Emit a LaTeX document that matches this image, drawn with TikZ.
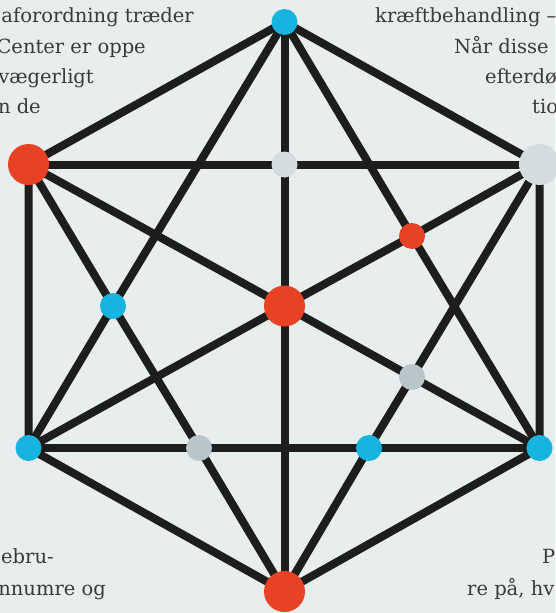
\documentclass[tikz,border=0pt]{standalone}
\usepackage{fontspec}
\setmainfont{DejaVu Serif}
\usepackage{xcolor}
\usepackage{tikz}
\usetikzlibrary{positioning}

\definecolor{paper}{HTML}{E8EDED}
\definecolor{linegray}{HTML}{1D1D1B}
\definecolor{dotred}{HTML}{E84225}
\definecolor{dotblue}{HTML}{17B4E0}
\definecolor{dotpale}{HTML}{D4DCDF}
\definecolor{dotgray}{HTML}{B8C6CA}
\definecolor{textgray}{HTML}{3A3A3A}

\pgfdeclarelayer{back}
\pgfsetlayers{back,main}

\begin{document}
\begin{tikzpicture}[
  x=1pt, y=-1pt,
  edge/.style={line width=8pt, draw=linegray},
  big/.style={circle, inner sep=0pt, minimum size=41pt},
  small/.style={circle, inner sep=0pt, minimum size=26pt},
  txt/.style={inner sep=0pt, text=textgray,
              font=\fontsize{19.5}{30}\selectfont}
]
\useasboundingbox (0,0) rectangle (555,613);

% outer corners
\node[small, fill=dotblue] (top) at (284.5,22) {};
\node[big, fill=dotred] (ul) at (28.5,164.5) {};
\node[big, fill=dotpale] (ur) at (539.5,164.5) {};
\node[small, fill=dotblue] (ll) at (28.5,448) {};
\node[small, fill=dotblue] (lr) at (539.5,448) {};
\node[big, fill=dotred] (bot) at (284.5,591.5) {};

% inner crossings
\node[big, fill=dotred] (ctr) at (284.5,306) {};
\node[small, fill=dotpale] (um) at (284.5,164.5) {};
\node[small, fill=dotred] (rr) at (412,236) {};
\node[small, fill=dotblue] (lm) at (113,306) {};
\node[small, fill=dotgray] (rg) at (412,377) {};
\node[small, fill=dotgray] (bg) at (199,448) {};
\node[small, fill=dotblue] (bb) at (369,448) {};

\begin{pgfonlayer}{back}
\fill[paper] (0,0) rectangle (555,613);
% hexagon
\draw[edge] (top.center) -- (ul.center) -- (ll.center) -- (bot.center)
  -- (lr.center) -- (ur.center) -- (top.center);
% straight lines
\draw[edge] (ul.center) -- (um.center) -- (ur.center);
\draw[edge] (ll.center) -- (bg.center) -- (bb.center) -- (lr.center);
\draw[edge] (top.center) -- (um.center) -- (ctr.center) -- (bot.center);
% diagonals
\draw[edge] (top.center) -- (lm.center) -- (ll.center);
\draw[edge] (top.center) -- (rr.center) -- (lr.center);
\draw[edge] (bot.center) -- (bg.center) -- (lm.center) -- (ul.center);
\draw[edge] (bot.center) -- (bb.center) -- (rg.center) -- (ur.center);
\draw[edge] (ul.center) -- (ctr.center) -- (rg.center) -- (lr.center);
\draw[edge] (ll.center) -- (ctr.center) -- (rr.center) -- (ur.center);
\end{pgfonlayer}

% text cut off at the edges
\begin{scope}
\clip (0,0) rectangle (555,613);
\node[txt, anchor=base east] (tl1) at (194,22) {aforordning træder};
\node[txt, anchor=base east] (tl2) at (146,53) {Center er oppe};
\node[txt, anchor=base east] (tl3) at (94,83) {vægerligt};
\node[txt, anchor=base east] (tl4) at (41,113) {n de};

\node[txt, anchor=base west] (tr1) at (375,22) {kræftbehandling –};
\node[txt, anchor=base west] (tr2) at (454,53) {Når disse};
\node[txt, anchor=base west] (tr3) at (485,83) {efterdø};
\node[txt, anchor=base west] (tr4) at (532,113) {tio};

\node[txt, anchor=base west] (bl1) at (1,563) {ebru-};
\node[txt, anchor=base east] (bl2) at (106,595) {nnumre og};

\node[txt, anchor=base west] (br1) at (542,563) {P};
\node[txt, anchor=base west] (br2) at (467,595) {re på, hv};
\end{scope}
\end{tikzpicture}
\end{document}
